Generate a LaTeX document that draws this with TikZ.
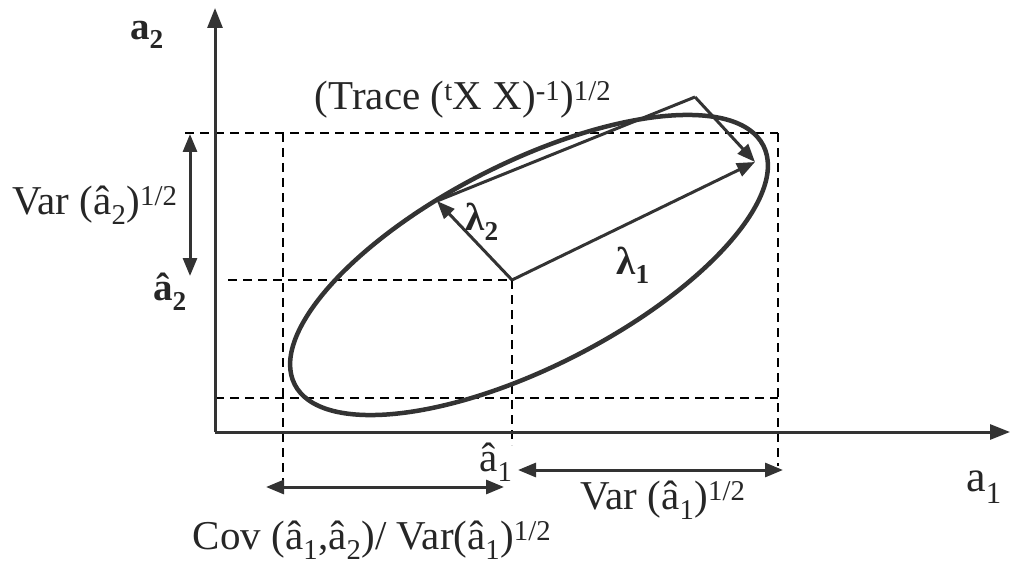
\documentclass[tikz,border=0pt]{standalone}
\usepackage{fontspec}
\setmainfont{Liberation Serif}
\usetikzlibrary{arrows.meta}
\begin{document}
\begin{tikzpicture}[x=1pt,y=-1pt,
  axis/.style={line width=3pt,draw=black!80,-{Triangle[length=20pt,width=15pt]}},
  guide/.style={line width=1.6pt,dash pattern=on 9pt off 6pt,draw=black},
  curve/.style={line width=4.5pt,draw=black!80},
  vec/.style={line width=3pt,draw=black!80,-{Triangle[length=18pt,width=14pt]}},
  side/.style={line width=3pt,draw=black!80},
  span/.style={line width=3pt,draw=black!80,{Triangle[length=18pt,width=14pt]}-{Triangle[length=18pt,width=14pt]}},
  lbl/.style={font=\fontsize{41}{46}\selectfont,inner sep=0pt,text=black!85},
  blbl/.style={font=\fontsize{39}{44}\selectfont\bfseries,inner sep=0pt,text=black!85}]
\useasboundingbox (0,0) rectangle (1011,564);
% coordinates
\coordinate (O) at (215,432);
\coordinate (Ytop) at (215,8);
\coordinate (Xend) at (1010,432);
\coordinate (C) at (512,280);
\coordinate (L1) at (755,162);
\coordinate (L2) at (437,201);
\coordinate (K) at (695,97);
\coordinate (E) at (529,265);
% dashed guides
\coordinate (t1) at (185,133); \coordinate (t2) at (778,133);
\coordinate (m1) at (228,280);
\coordinate (b1) at (215,398); \coordinate (b2) at (778,398);
\coordinate (v1a) at (283,133); \coordinate (v1b) at (283,492);
\coordinate (v2b) at (778,466);
\coordinate (v3b) at (512,445);
\draw[guide] (t1) -- (t2);
\draw[guide] (m1) -- (C);
\draw[guide] (b1) -- (b2);
\draw[guide] (v1a) -- (v1b);
\draw[guide] (t2) -- (v2b);
\draw[guide] (C) -- (v3b);
% axes
\draw[axis] (O) -- (Ytop);
\draw[axis] (O) -- (Xend);
% ellipse
\draw[curve,rotate around={27:(E)}] (E) ellipse [x radius=263pt,y radius=102pt];
% eigen vectors
\draw[vec] (C) -- (L1);
\draw[vec] (C) -- (L2);
\draw[side] (L2) -- (K);
\draw[vec] (K) -- (L1);
% spans
\coordinate (s2a) at (190,134); \coordinate (s2b) at (190,276);
\draw[span] (s2a) -- (s2b);
\coordinate (s1a) at (518,470); \coordinate (s1b) at (783,470);
\draw[span] (s1a) -- (s1b);
\coordinate (sca) at (266,487); \coordinate (scb) at (504,487);
\draw[span] (sca) -- (scb);
% labels
\node[blbl] (la2) at (147,35) {a\textsubscript{2}};
\node[lbl] (lvar2) at (95,205) {Var (â\textsubscript{2})\textsuperscript{1/2}};
\node[blbl] (lh2) at (170,292) {â\textsubscript{2}};
\node[lbl] (ltr) at (463,100) {(Trace (\textsuperscript{t}X X)\textsuperscript{-1})\textsuperscript{1/2}};
\node[blbl] (ll2) at (482,222) {λ\textsubscript{2}};
\node[blbl] (ll1) at (633,265) {λ\textsubscript{1}};
\node[lbl] (lh1) at (496,462) {â\textsubscript{1}};
\node[lbl,font=\fontsize{44}{48}\selectfont] (la1) at (984,487) {a\textsubscript{1}};
\node[lbl] (lvar1) at (663,500) {Var (â\textsubscript{1})\textsuperscript{1/2}};
\node[lbl] (lcov) at (372,540) {Cov (â\textsubscript{1},â\textsubscript{2})/ Var(â\textsubscript{1})\textsuperscript{1/2}};
\end{tikzpicture}
\end{document}
